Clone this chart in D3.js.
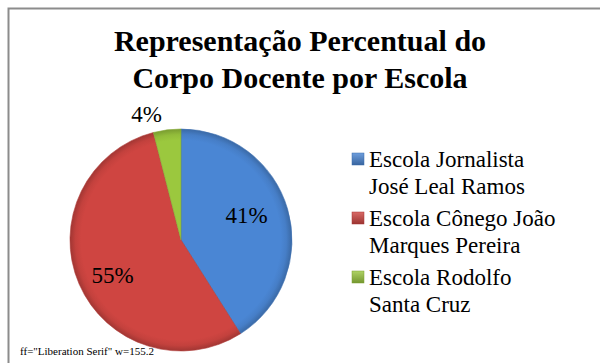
<!DOCTYPE html>
<html><head><meta charset="utf-8">
<script src="https://cdn.jsdelivr.net/npm/d3@7"></script>
</head><body style="margin:0">
<svg id="chart" width="600" height="363"></svg>
<script>
const titleLines = ["Representação Percentual do", "Corpo Docente por Escola"];
const categories = ["Escola Jornalista José Leal Ramos", "Escola Cônego João Marques Pereira", "Escola Rodolfo Santa Cruz"];
const legendLines = [["Escola Jornalista", "José Leal Ramos"], ["Escola Cônego João", "Marques Pereira"], ["Escola Rodolfo", "Santa Cruz"]];
const values = [41, 55, 4];
const labels = ["41%", "55%", "4%"];
const colors = ["#4A86D4", "#CF4541", "#9BC83E"];

const svg = d3.select("#chart");
const FONT = '"Liberation Serif"';

svg.append("rect").attr("x", 8.5).attr("y", 8.5).attr("width", 620).attr("height", 400)
  .attr("fill", "#fff").attr("stroke", "#8c8c8c").attr("stroke-width", 2);

svg.selectAll("text.title").data(titleLines).join("text").attr("class", "title")
  .attr("x", 300).attr("y", (d, i) => 51 + i * 37)
  .attr("text-anchor", "middle").style("font-family", FONT).style("font-weight", "bold")
  .attr("font-size", 30).attr("fill", "#000").text(d => d);

const cx = 181, cy = 240, r = 111;
const defs = svg.append("defs");
const lighten = (c, k) => d3.interpolateRgb(c, "#fff")(k);
const darken = (c, k) => d3.interpolateRgb(c, "#000")(k);
colors.forEach((c, i) => {
  const g = defs.append("radialGradient").attr("id", "g" + i)
    .attr("gradientUnits", "userSpaceOnUse").attr("cx", cx).attr("cy", cy).attr("r", r);
  g.append("stop").attr("offset", "0%").attr("stop-color", c);
  g.append("stop").attr("offset", "90%").attr("stop-color", c);
  g.append("stop").attr("offset", "95%").attr("stop-color", darken(c, 0.06));
  g.append("stop").attr("offset", "100%").attr("stop-color", darken(c, 0.22));
  const lg = defs.append("linearGradient").attr("id", "lg" + i).attr("x1", 0).attr("y1", 0).attr("x2", 0).attr("y2", 1);
  lg.append("stop").attr("offset", "0%").attr("stop-color", lighten(c, 0.2));
  lg.append("stop").attr("offset", "100%").attr("stop-color", darken(c, 0.25));
});

const pie = d3.pie().sort(null).value(d => d);
const arcs = pie(values);
const pg = svg.append("g");
pg.selectAll("path").data(arcs).join("path")
  .attr("d", d => {
    const p = d3.path();
    const a0 = d.startAngle - Math.PI / 2, a1 = d.endAngle - Math.PI / 2;
    p.moveTo(cx, cy);
    p.lineTo(cx + r * Math.cos(a0), cy + r * Math.sin(a0));
    p.arc(cx, cy, r, a0, a1);
    p.closePath();
    return p.toString();
  })
  .attr("fill", (d, i) => `url(#g${i})`)
  .attr("stroke", (d, i) => darken(colors[i], 0.15)).attr("stroke-width", 0.6);

const labelPos = [[246.5, 223], [112.5, 283], [146.7, 121.7]];
svg.selectAll("text.lbl").data(labels).join("text").attr("class", "lbl")
  .attr("x", (d, i) => labelPos[i][0]).attr("y", (d, i) => labelPos[i][1])
  .attr("text-anchor", "middle").style("font-family", FONT).attr("font-size", 23)
  .attr("fill", "#000").text(d => d);

const lg = svg.append("g");
legendLines.forEach((lines, i) => {
  const y0 = 167 + i * 59;
  lg.append("rect").attr("x", 352).attr("y", y0 - 14).attr("width", 12).attr("height", 12)
    .attr("fill", `url(#lg${i})`).attr("stroke", darken(colors[i], 0.2)).attr("stroke-width", 0.5);
  lines.forEach((t, j) => {
    lg.append("text").attr("x", 369).attr("y", y0 + j * 27)
      .style("font-family", FONT).attr("font-size", 23).attr("fill", "#000").text(t);
  });
});
const probe = lg.select("text").node();
svg.append("text").attr("x", 20).attr("y", 355).attr("font-size", 11)
  .text("ff=" + getComputedStyle(probe).fontFamily + " w=" + probe.getComputedTextLength().toFixed(1));
</script>
</body></html>
